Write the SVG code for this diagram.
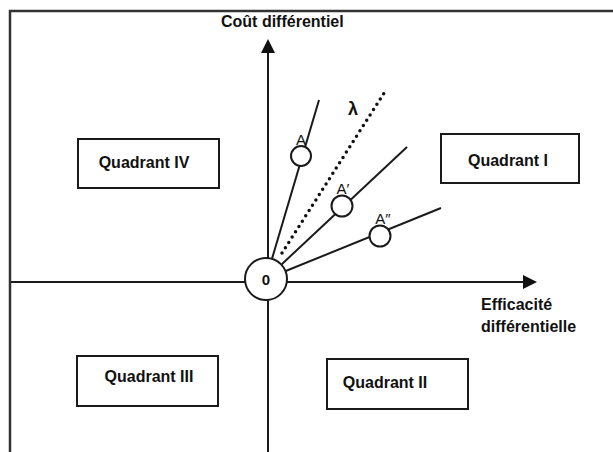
<svg xmlns="http://www.w3.org/2000/svg" width="613" height="452" viewBox="0 0 613 452">
<style>
.ln{stroke:#1a1a1a;stroke-width:2;fill:none}
.box{fill:#fff;stroke:#1a1a1a;stroke-width:2}
.t{font-family:"Liberation Sans",Arial,sans-serif;font-weight:bold;fill:#111}
.q{font-size:16px;text-anchor:middle}
.lab{font-family:"Liberation Sans",Arial,sans-serif;font-size:15px;fill:#111;text-anchor:middle}
.c{fill:#fff;stroke:#1a1a1a;stroke-width:2}
</style>
<defs>
<marker id="ah" markerWidth="14" markerHeight="14" refX="12" refY="7" orient="auto" markerUnits="userSpaceOnUse">
<path d="M0,0 L14,7 L0,14 Z" fill="#111"/>
</marker>
</defs>
<rect width="613" height="452" fill="#fff"/>
<g id="frame">
<path d="M10,452 L10,11 L613,11" stroke="#333" stroke-width="2.5" fill="none"/>
</g>
<g id="connectors">
<line class="ln" x1="11" y1="282" x2="535" y2="282" marker-end="url(#ah)"/>
<line class="ln" x1="268" y1="452" x2="268" y2="41" marker-end="url(#ah)"/>
<line class="ln" x1="266" y1="279" x2="319" y2="100"/>
<line class="ln" x1="266" y1="279" x2="407" y2="147"/>
<line class="ln" x1="266" y1="279" x2="441" y2="208"/>
<line x1="282" y1="253" x2="386" y2="90" stroke="#111" stroke-width="3.5" stroke-linecap="round" stroke-dasharray="0 6.3"/>
</g>
<g id="origin">
<circle class="c" cx="266" cy="279" r="21"/>
<text class="t" x="266" y="285" font-size="15" text-anchor="middle">0</text>
</g>
<g id="pointA">
<circle class="c" cx="301" cy="156" r="10"/>
<text class="lab" x="301" y="145">A</text>
</g>
<g id="pointA1">
<circle class="c" cx="342" cy="206" r="10.5"/>
<text class="lab" x="343" y="194">A′</text>
</g>
<g id="pointA2">
<circle class="c" cx="380" cy="236" r="10.5"/>
<text class="lab" x="383" y="224">A″</text>
</g>
<g id="lambda">
<text class="t" x="353" y="115" font-size="18" text-anchor="middle">λ</text>
</g>
<g id="yaxis-label">
<text class="t" x="221" y="27" font-size="16">Coût différentiel</text>
</g>
<g id="xaxis-label">
<text class="t" x="481" y="310" font-size="16">Efficacité</text>
<text class="t" x="481" y="332" font-size="16">différentielle</text>
</g>
<g id="quadrant-IV">
<rect class="box" x="78" y="139" width="141" height="49"/>
<text class="t q" x="144" y="168">Quadrant IV</text>
</g>
<g id="quadrant-I">
<rect class="box" x="441" y="134" width="138" height="49"/>
<text class="t q" x="508" y="166">Quadrant I</text>
</g>
<g id="quadrant-III">
<rect class="box" x="77" y="356" width="141" height="50"/>
<text class="t q" x="149" y="382">Quadrant III</text>
</g>
<g id="quadrant-II">
<rect class="box" x="327" y="359" width="141" height="50"/>
<text class="t q" x="385" y="388">Quadrant II</text>
</g>
</svg>
